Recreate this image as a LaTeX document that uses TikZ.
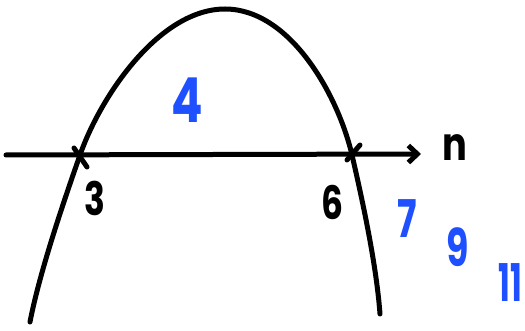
\documentclass[tikz,border=0pt]{standalone}
\usepackage{fontspec}
\setmainfont{Poppins}
\usetikzlibrary{arrows.meta}
\definecolor{penblue}{RGB}{30,80,255}
\tikzset{
  pen/.style={line width=5pt, line cap=round, line join=round, black},
  blk/.style={font=\fontsize{46}{46}\selectfont\bfseries, text=black, inner sep=0pt},
  blu/.style={font=\fontsize{52}{52}\selectfont\bfseries, text=penblue, inner sep=0pt},
}
\begin{document}
\begin{tikzpicture}[x=1pt,y=-1pt]
\useasboundingbox (0,0) rectangle (525,331);
% parabola
\draw[pen] (30,322) .. controls (40,270) and (66,195) .. (80,155)
  .. controls (101,95) and (160,9) .. (225,9)
  .. controls (290,9) and (338,95) .. (352,155)
  .. controls (360,190) and (376,260) .. (380,314);
% axis
\coordinate (axs) at (6,155);
\coordinate (axe) at (421,154);
\draw[pen, -{Straight Barb[length=9pt,width=17pt,line width=5pt]}] (axs) -- (axe);
% tick marks at roots
\coordinate (t1a) at (74,148);
\coordinate (t1b) at (87,167);
\coordinate (t2a) at (347,160);
\coordinate (t2b) at (360,145);
\draw[pen] (t1a) -- (t1b);
\draw[pen] (t2a) -- (t2b);
% labels
\node[blk, xscale=0.8] (n) at (455,148) {n};
\node[blk, xscale=0.75] (three) at (95,198) {3};
\node[blk, xscale=0.75] (six) at (332,202) {6};
\node[blu, font=\fontsize{62}{62}\selectfont\bfseries, xscale=0.75] (four) at (187,100) {4};
\node[blu, xscale=0.7] (seven) at (407,219) {7};
\node[blu, xscale=0.7] (nine) at (458,247) {9};
\node[blu, xscale=0.6] (eleven) at (510,283) {11};
\end{tikzpicture}
\end{document}
